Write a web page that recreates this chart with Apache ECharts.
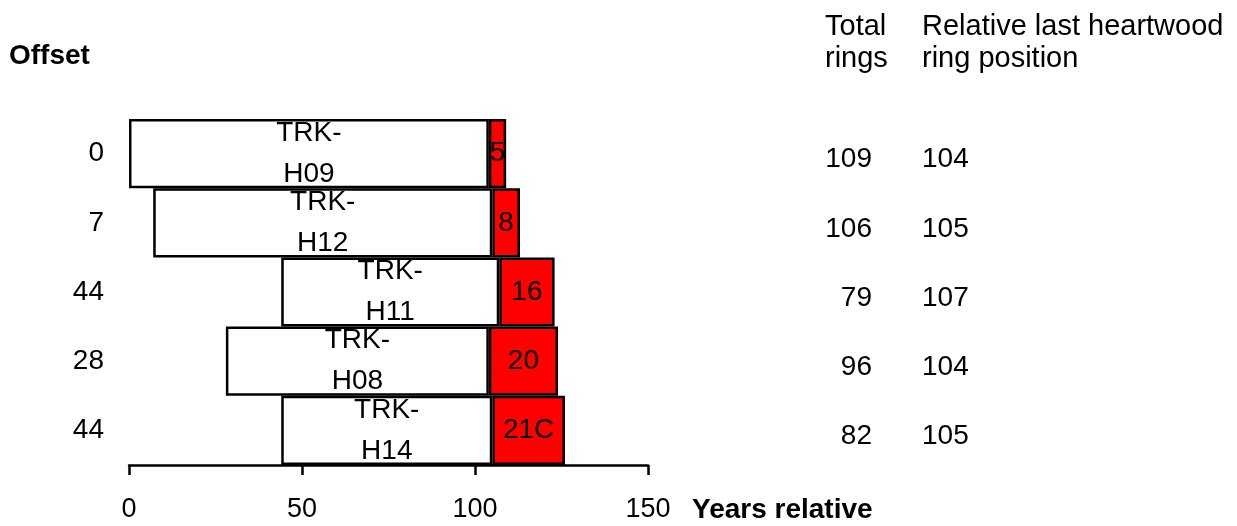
<!DOCTYPE html>
<html>
<head>
<meta charset="utf-8">
<script src="https://cdn.jsdelivr.net/npm/echarts@6/dist/echarts.min.js"></script>
<style>html,body{margin:0;padding:0;background:#fff}#c{width:1237px;height:526px}</style>
</head>
<body>
<div id="c"></div>
<script>
var samples = ['TRK-H09', 'TRK-H12', 'TRK-H11', 'TRK-H08', 'TRK-H14'];
var offsets = [0, 7, 44, 28, 44];
var totalRings = [109, 106, 79, 96, 82];
var lastHeartwood = [104, 105, 107, 104, 105];
var sapwoodLabels = ['5', '8', '16', '20', '21C'];
var xTicks = [0, 50, 100, 150];

var heartwood = lastHeartwood.map(function (h, i) { return h - offsets[i]; });
var sapwood = totalRings.map(function (t, i) { return offsets[i] + t - lastHeartwood[i]; });

var FONT = 'Liberation Sans, Arial, sans-serif';
var chart = echarts.init(document.getElementById('c'), null, {renderer: 'canvas'});

var hiddenCat = function (labels, extra) {
  return Object.assign({
    type: 'category',
    inverse: true,
    data: labels,
    axisLine: {show: false},
    axisTick: {show: false},
    splitLine: {show: false}
  }, extra);
};

chart.setOption({
  animation: false,
  backgroundColor: '#fff',
  title: [
    {text: 'Offset', left: 9, top: 42, padding: 0,
     textStyle: {fontFamily: FONT, fontSize: 28, fontWeight: 'bold', color: '#000'}},
    {text: 'Total\nrings', left: 825, top: 11, padding: 0,
     textStyle: {fontFamily: FONT, fontSize: 29, fontWeight: 'normal', lineHeight: 32, color: '#000'}},
    {text: 'Relative last heartwood\nring position', left: 922, top: 11, padding: 0,
     textStyle: {fontFamily: FONT, fontSize: 29, fontWeight: 'normal', lineHeight: 32, color: '#000'}},
    {text: 'Years relative', left: 692, top: 496, padding: 0,
     textStyle: {fontFamily: FONT, fontSize: 28, fontWeight: 'bold', color: '#000'}}
  ],
  grid: {left: 129, right: 589, top: 119, bottom: 61, containLabel: false},
  xAxis: {
    type: 'value', min: xTicks[0], max: xTicks[xTicks.length - 1], interval: 50,
    axisLine: {show: true, lineStyle: {color: '#000', width: 2.5}},
    axisTick: {show: true, length: 10, lineStyle: {color: '#000', width: 2.5}},
    splitLine: {show: false},
    axisLabel: {color: '#000', fontFamily: FONT, fontSize: 27, margin: 31}
  },
  yAxis: [
    hiddenCat(offsets.map(String), {
      position: 'left',
      axisLabel: {color: '#000', fontFamily: FONT, fontSize: 28, margin: 25}
    }),
    hiddenCat(totalRings.map(String), {
      position: 'right', offset: 224,
      axisLabel: {color: '#000', fontFamily: FONT, fontSize: 28, margin: 0, align: 'right',
                  verticalAlign: 'top', lineHeight: 12}
    }),
    hiddenCat(lastHeartwood.map(String), {
      position: 'right', offset: 274,
      axisLabel: {color: '#000', fontFamily: FONT, fontSize: 28, margin: 0, align: 'left',
                  verticalAlign: 'top', lineHeight: 12}
    })
  ],
  series: [
    {
      name: 'offset', type: 'bar', stack: 's', yAxisIndex: 0,
      data: offsets, barCategoryGap: '0%', silent: true,
      itemStyle: {color: 'rgba(0,0,0,0)', borderWidth: 0}
    },
    {
      name: 'heartwood', type: 'bar', stack: 's', yAxisIndex: 0,
      data: heartwood, barCategoryGap: '0%',
      itemStyle: {color: '#fff', borderColor: '#000', borderWidth: 2.5},
      label: {
        show: true, position: 'inside', color: '#000', fontFamily: FONT, fontSize: 28, lineHeight: 41,
        formatter: function (p) { return samples[p.dataIndex].replace('-', '-\n'); }
      }
    },
    {
      name: 'sapwood', type: 'bar', stack: 's', yAxisIndex: 0,
      data: sapwood, barCategoryGap: '0%',
      itemStyle: {color: '#ff0000', borderColor: '#000', borderWidth: 2.5},
      label: {
        show: true, position: 'inside', color: '#000', fontFamily: FONT, fontSize: 28,
        formatter: function (p) { return sapwoodLabels[p.dataIndex]; }
      }
    }
  ]
});
</script>
</body>
</html>
